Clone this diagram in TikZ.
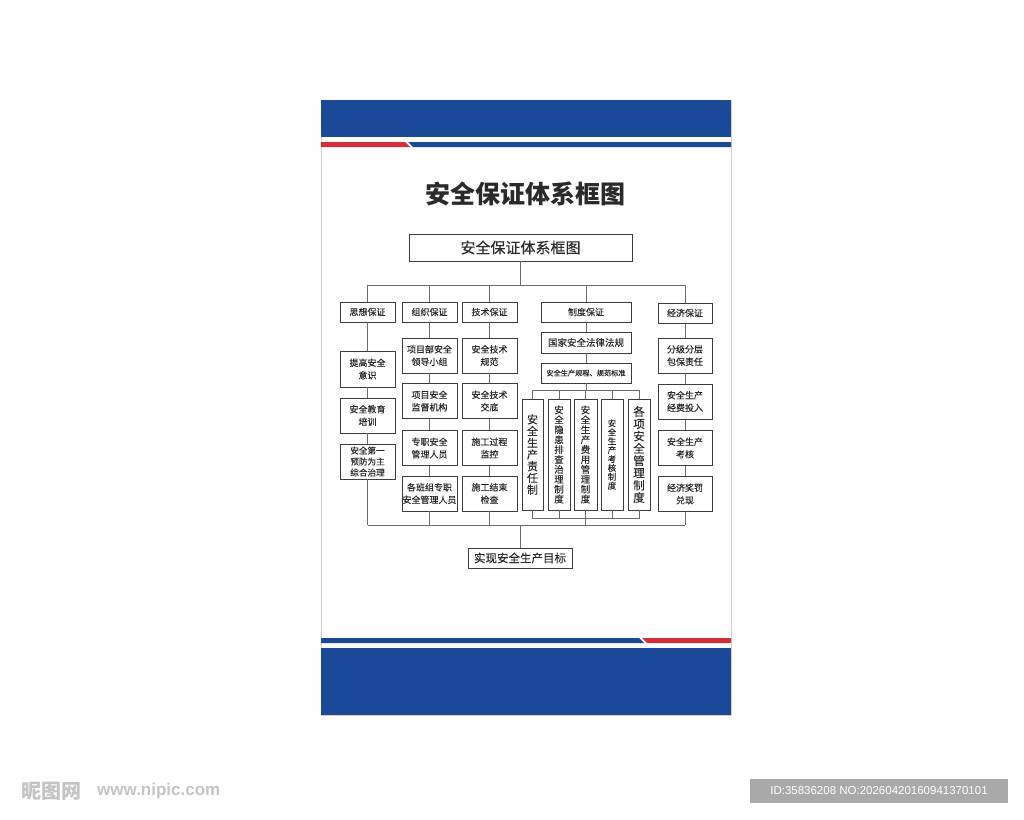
\documentclass[tikz,border=0pt]{standalone}
\usepackage{fontspec}
\newfontfamily\cjk{Noto Sans CJK SC}[FakeBold=0.12]
\newfontfamily\cjktitle{Noto Sans CJK SC}
\newfontfamily\lsans{Liberation Sans}
\definecolor{bandblue}{HTML}{1A4A97}
\definecolor{bandred}{HTML}{D42E3A}
\definecolor{boxc}{HTML}{3C3C3C}
\definecolor{linec}{HTML}{6A6A6A}
\definecolor{txtc}{HTML}{2A2A2A}
\definecolor{panelc}{HTML}{D0D0D0}
\definecolor{wmgray}{HTML}{A9A9A9}
\definecolor{logogray}{HTML}{C4C4C4}
\tikzset{
  box/.style={draw=boxc, line width=0.95pt, inner sep=0pt, align=center, text=txtc,
    font=\cjk\fontsize{9}{12.5}\selectfont},
  lone/.style={box, minimum height=20pt},
  sub/.style={box, minimum width=55pt, minimum height=35pt},
  vbox/.style={box, minimum height=111pt},
  conn/.style={draw=linec, line width=0.8pt},
}
\begin{document}
\begin{tikzpicture}[x=1pt,y=-1pt]
\useasboundingbox (0,0) rectangle (1024,819);
\fill[white] (0,0) rectangle (1024,819);
% panel
\draw[panelc, line width=0.8pt] (321,100) rectangle (731,715);
\fill[bandblue] (321,100) rectangle (731,137);
\fill[bandred] (321,142) -- (405,142) -- (410,147) -- (321,147) -- cycle;
\fill[bandblue] (408,142) -- (731,142) -- (731,147) -- (413,147) -- cycle;
\fill[bandblue] (321,638) -- (639,638) -- (644,643) -- (321,643) -- cycle;
\fill[bandred] (642,638) -- (731,638) -- (731,643) -- (647,643) -- cycle;
\fill[bandblue] (321,648) rectangle (731,715);

% title
\node[text=txtc, font=\cjktitle\bfseries\fontsize{25}{28}\selectfont, inner sep=0pt] (title) at (525.5,194) {安全保证体系框图};

% top box
\node[box, minimum width=223pt, minimum height=27pt, font=\cjk\fontsize{15}{18}\selectfont] (t) at (520.5,247.5) {安全保证体系框图};

% level one
\node[lone, minimum width=55pt] (s0) at (367.5,312) {思想保证};
\node[lone, minimum width=55pt] (z0) at (429.5,312) {组织保证};
\node[lone, minimum width=55pt] (j0) at (489.5,312) {技术保证};
\node[lone, minimum width=90pt] (d0) at (586,312) {制度保证};
\node[lone, minimum width=54pt] (e0) at (685,313) {经济保证};

% column 1
\node[sub, minimum height=36pt] (s1) at (367.5,369) {提高安全\\意识};
\node[sub] (s2) at (367.5,415.5) {安全教育\\培训};
\node[sub, font=\cjk\fontsize{8.6}{11}\selectfont] (s3) at (367.5,461.5) {安全第一\\预防为主\\综合治理};

% column 2
\node[sub] (z1) at (429.5,355.5) {项目部安全\\领导小组};
\node[sub] (z2) at (429.5,401) {项目安全\\监督机构};
\node[sub] (z3) at (429.5,448) {专职安全\\管理人员};
\node[sub] (z4) at (429.5,493.5) {各班组专职\\安全管理人员};

% column 3
\node[sub] (j1) at (489.5,355.5) {安全技术\\规范};
\node[sub] (j2) at (489.5,401) {安全技术\\交底};
\node[sub] (j3) at (489.5,448) {施工过程\\监控};
\node[sub] (j4) at (489.5,493.5) {施工结束\\检查};

% column 4
\node[box, minimum width=90pt, minimum height=21pt, font=\cjk\fontsize{9.5}{11}\selectfont] (d1) at (586,342.5) {国家安全法律法规};
\node[box, minimum width=90pt, minimum height=20pt, font=\cjk\fontsize{7.2}{9}\selectfont] (d2) at (586,373) {安全生产规程、规范标准};
\node[vbox, minimum width=21pt, font=\cjk\fontsize{11}{11.7}\selectfont] (v1) at (532.5,454.5) {安\\全\\生\\产\\责\\任\\制};
\node[vbox, minimum width=22pt, font=\cjk\fontsize{9.5}{9.9}\selectfont] (v2) at (559,454.5) {安\\全\\隐\\患\\排\\查\\治\\理\\制\\度};
\node[vbox, minimum width=23pt, font=\cjk\fontsize{9.5}{9.9}\selectfont] (v3) at (585.5,454.5) {安\\全\\生\\产\\费\\用\\管\\理\\制\\度};
\node[vbox, minimum width=22pt, font=\cjk\fontsize{8.5}{8.9}\selectfont] (v4) at (612,454.5) {安\\全\\生\\产\\考\\核\\制\\度};
\node[vbox, minimum width=22pt, font=\cjk\fontsize{11.5}{12.3}\selectfont] (v5) at (639,454.5) {各\\项\\安\\全\\管\\理\\制\\度};

% column 5
\node[sub, minimum width=54pt] (e1) at (685,355.5) {分级分层\\包保责任};
\node[sub, minimum width=54pt] (e2) at (685,401.5) {安全生产\\经费投入};
\node[sub, minimum width=54pt] (e3) at (685,448) {安全生产\\考核};
\node[sub, minimum width=54pt] (e4) at (685,494) {经济奖罚\\兑现};

% goal
\node[box, minimum width=104pt, minimum height=20pt, font=\cjk\fontsize{11.5}{13}\selectfont] (g) at (520,558) {实现安全生产目标};

% connectors
\coordinate (hl) at (367.5,285);
\coordinate (hr) at (685,285);
\coordinate (bl) at (367.5,525);
\coordinate (br) at (685,525);
\coordinate (vh) at (532.5,390);
\coordinate (vhr) at (639,390);
\coordinate (vb) at (532.5,518.5);
\coordinate (vbr) at (639,518.5);

\draw[conn] (t.south) -- (t.south |- hl);
\draw[conn] (hl) -- (hr);
\foreach \n in {s0,z0,j0,d0,e0} {\draw[conn] (\n.north) -- (\n.north |- hl);}
\draw[conn] (s0) -- (s1) -- (s2) -- (s3);
\draw[conn] (z0) -- (z1) -- (z2) -- (z3) -- (z4);
\draw[conn] (j0) -- (j1) -- (j2) -- (j3) -- (j4);
\draw[conn] (e0) -- (e1) -- (e2) -- (e3) -- (e4);
\draw[conn] (d0) -- (d1) -- (d2);
\draw[conn] (d2.south) -- (d2.south |- vh);
\draw[conn] (vh) -- (vhr);
\draw[conn] (vb) -- (vbr);
\foreach \n in {v1,v2,v3,v4,v5} {
  \draw[conn] (\n.north) -- (\n.north |- vh);
  \draw[conn] (\n.south) -- (\n.south |- vb);
}
\foreach \n in {s3,z4,j4,e4} {\draw[conn] (\n.south) -- (\n.south |- bl);}
\draw[conn] (v3.south |- vb) -- (v3.south |- bl);
\draw[conn] (bl) -- (br);
\draw[conn] (g.north |- bl) -- (g.north);

% watermark
\node[text=logogray, font=\cjktitle\bfseries\fontsize{20}{22}\selectfont, anchor=west, inner sep=0pt] (logo) at (21,791) {昵图网};
\node[text=logogray, font=\lsans\bfseries\fontsize{17}{20}\selectfont, anchor=west, inner sep=0pt] (url) at (97,791) {www.nipic.com};
\node[fill=wmgray, text=white, minimum width=258pt, minimum height=24pt, inner sep=0pt, font=\lsans\fontsize{11.5}{13}\selectfont] (idbox) at (879,791) {ID:35836208 NO:20260420160941370101};
\end{tikzpicture}
\end{document}
